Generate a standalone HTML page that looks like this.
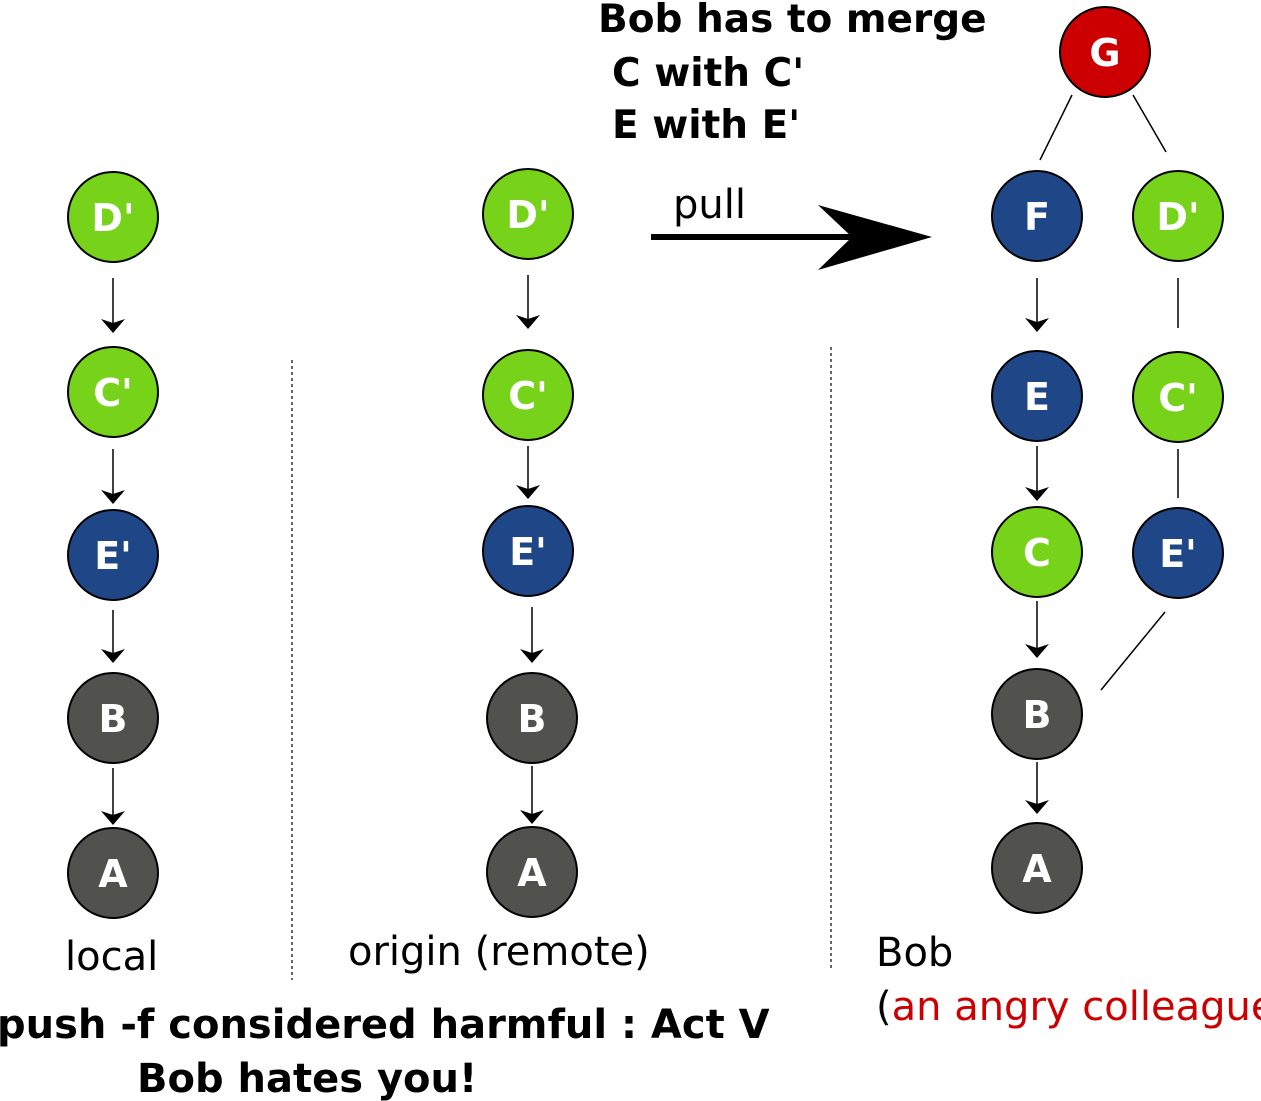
<!DOCTYPE html>
<html><head><meta charset="utf-8"><style>
html,body{margin:0;padding:0;background:#fff;}
svg{display:block;}
text{font-family:"DejaVu Sans","Liberation Sans",sans-serif;}
.lbl{fill:#fff;font-weight:bold;font-size:38px;text-anchor:middle;}
.t{font-size:40px;fill:#000;}
.b{font-weight:bold;}
</style></head><body>
<svg width="1261" height="1101" viewBox="0 0 1261 1101">
<defs><marker id="ah" markerWidth="14" markerHeight="24" refX="13" refY="12" orient="auto" markerUnits="userSpaceOnUse">
<path d="M0,0 L14,12 L0,24 L4,12 Z" fill="#000"/></marker></defs>
<g id="g" stroke="#000" stroke-width="1.5"></g>
<g stroke="#666" stroke-width="2" stroke-dasharray="3,3">
<line x1="292" y1="360" x2="292" y2="980"/><line x1="831" y1="347" x2="831" y2="968"/></g>
<g>
<line x1="651" y1="237" x2="860" y2="237" stroke="#000" stroke-width="6"/>
<path d="M818,205 L932,237 L818,270 L852,237 Z" fill="#000"/></g>
<text class="t" x="673" y="218">pull</text>
<text class="t b" x="598" y="32" font-size="39" style="font-size:39px">Bob has to merge</text>
<text class="t b" x="612" y="86" style="font-size:39px">C with C'</text>
<text class="t b" x="612" y="138" style="font-size:39px">E with E'</text>
<text class="t" x="65" y="970">local</text>
<text class="t" x="348" y="965">origin (remote)</text>
<text class="t" x="876" y="966">Bob</text>
<text class="t" x="876" y="1020">(<tspan fill="#cc0000">an angry colleague</tspan></text>
<text class="t b" x="-3" y="1038">push -f considered harmful : Act V</text>
<text class="t b" x="137" y="1092">Bob hates you!</text>
</svg>
<script>
const G='#77d31a',B='#1f4788',K='#51524e',R='#cc0000';
const nodes=[
[113,217,"D'",G],[113,392,"C'",G],[113,555,"E'",B],[113,718,"B",K],[113,873,"A",K],
[528,214,"D'",G],[528,395,"C'",G],[528,551,"E'",B],[532,718,"B",K],[532,872,"A",K],
[1037,216,"F",B],[1037,396,"E",B],[1037,552,"C",G],[1037,714,"B",K],[1037,868,"A",K],
[1178,216,"D'",G],[1178,397,"C'",G],[1178,553,"E'",B],[1105,52,"G",R]];
const arrows=[[113,278,332],[113,449,503],[113,610,662],[113,768,824],
[528,275,328],[528,446,498],[532,607,662],[532,766,823],
[1037,278,331],[1037,446,500],[1037,601,657],[1037,762,813]];
const lines=[[1072,95,1040,160],[1133,95,1166,152],[1178,278,1178,328],[1178,449,1178,498],[1165,612,1101,690]];
const ns='http://www.w3.org/2000/svg',svg=document.querySelector('svg'),g=document.getElementById('g');
arrows.forEach(a=>{const l=document.createElementNS(ns,'line');
l.setAttribute('x1',a[0]);l.setAttribute('x2',a[0]);l.setAttribute('y1',a[1]);l.setAttribute('y2',a[2]);
l.setAttribute('marker-end','url(#ah)');


g.appendChild(l);});
lines.forEach(a=>{const l=document.createElementNS(ns,'line');
l.setAttribute('x1',a[0]);l.setAttribute('y1',a[1]);l.setAttribute('x2',a[2]);l.setAttribute('y2',a[3]);


g.appendChild(l);});
nodes.forEach(n=>{const gg=document.createElementNS(ns,'g');


const c=document.createElementNS(ns,'circle');c.setAttribute('cx',n[0]);c.setAttribute('cy',n[1]);c.setAttribute('r',45);
c.setAttribute('fill',n[3]);c.setAttribute('stroke','#000');c.setAttribute('stroke-width','2');
const t=document.createElementNS(ns,'text');t.setAttribute('class','lbl');t.setAttribute('x',n[0]);t.setAttribute('y',n[1]+14);t.textContent=n[2];
gg.appendChild(c);gg.appendChild(t);svg.appendChild(gg);});
</script>
</body></html>
